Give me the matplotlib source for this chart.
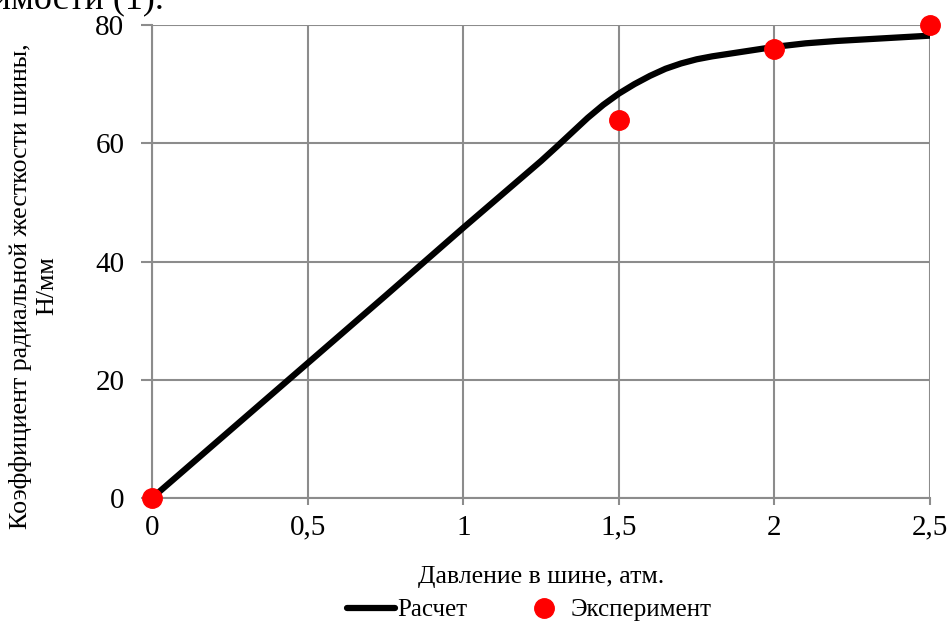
import matplotlib
matplotlib.use("Agg")
import matplotlib.pyplot as plt

# calculated curve (Расчет)
calc_p = [0, 0.25, 0.5, 0.75, 1.0, 1.25, 1.3, 1.4, 1.45, 1.5, 1.55, 1.6, 1.65, 1.7, 1.75, 1.8, 1.85, 1.9,
          2.0, 2.1, 2.2, 2.3, 2.4, 2.5]
calc_k = [0, 11.4, 22.8, 34.2, 45.7, 57.0, 59.4, 64.3, 66.5, 68.4, 70.0, 71.4, 72.6, 73.5, 74.2, 74.7, 75.1, 75.5,
          76.3, 76.9, 77.3, 77.6, 77.9, 78.2]

# experiment points (Эксперимент)
exp_p = [0, 1.5, 2.0, 2.5]
exp_k = [0, 64, 76, 80]

xticks = [0, 0.5, 1, 1.5, 2, 2.5]
xlabels = ["0", "0,5", "1", "1,5", "2", "2,5"]
yticks = [0, 20, 40, 60, 80]

plt.rcParams['font.family'] = ['Liberation Serif', 'DejaVu Serif']

fig = plt.figure(figsize=(9.52, 6.25), dpi=100)
ax = fig.add_axes([0.1597, 0.2032, 0.8173, 0.7568])

gcol = '#8c8c8c'
ax.plot(calc_p, calc_k, color='black', lw=4.5, solid_capstyle='round', label='Расчет', zorder=3)
ax.plot(exp_p, exp_k, 'o', color='#ff0000', ms=14, ls='none', label='Эксперимент', clip_on=False, zorder=4)

ax.set_xlim(0, 2.5)
ax.set_ylim(0, 80)
ax.set_xticks(xticks)
ax.set_xticklabels(xlabels)
ax.set_yticks(yticks)
ax.grid(True, color=gcol, lw=1.5)
ax.set_axisbelow(True)
for s in ['top', 'right']:
    ax.spines[s].set_visible(False)
for s in ['left', 'bottom']:
    ax.spines[s].set_color(gcol)
    ax.spines[s].set_linewidth(1.5)
ax.tick_params(axis='y', length=8, width=1.5, color=gcol, labelsize=21, pad=12)
ax.tick_params(axis='x', length=5, width=1.5, color=gcol, labelsize=21, pad=7)

ax.set_xlabel('Давление в шине, атм.', fontsize=18.5, labelpad=18)
ax.set_ylabel('Коэффициент радиальной жесткости шины,\nН/мм', fontsize=18.7, linespacing=1.2)
ax.yaxis.set_label_coords(-0.121, 0.448)

fig.legend(loc='lower center', bbox_to_anchor=(0.556, -0.03), ncol=2, frameon=False,
           fontsize=18, handlelength=1.9, handletextpad=0.1, columnspacing=2.1)

# cut-off text from the page above the chart
fig.text(0.172, 0.986, 'зависимости (1).', fontsize=26, ha='right', va='baseline')

fig.savefig('out.png', dpi=100)
